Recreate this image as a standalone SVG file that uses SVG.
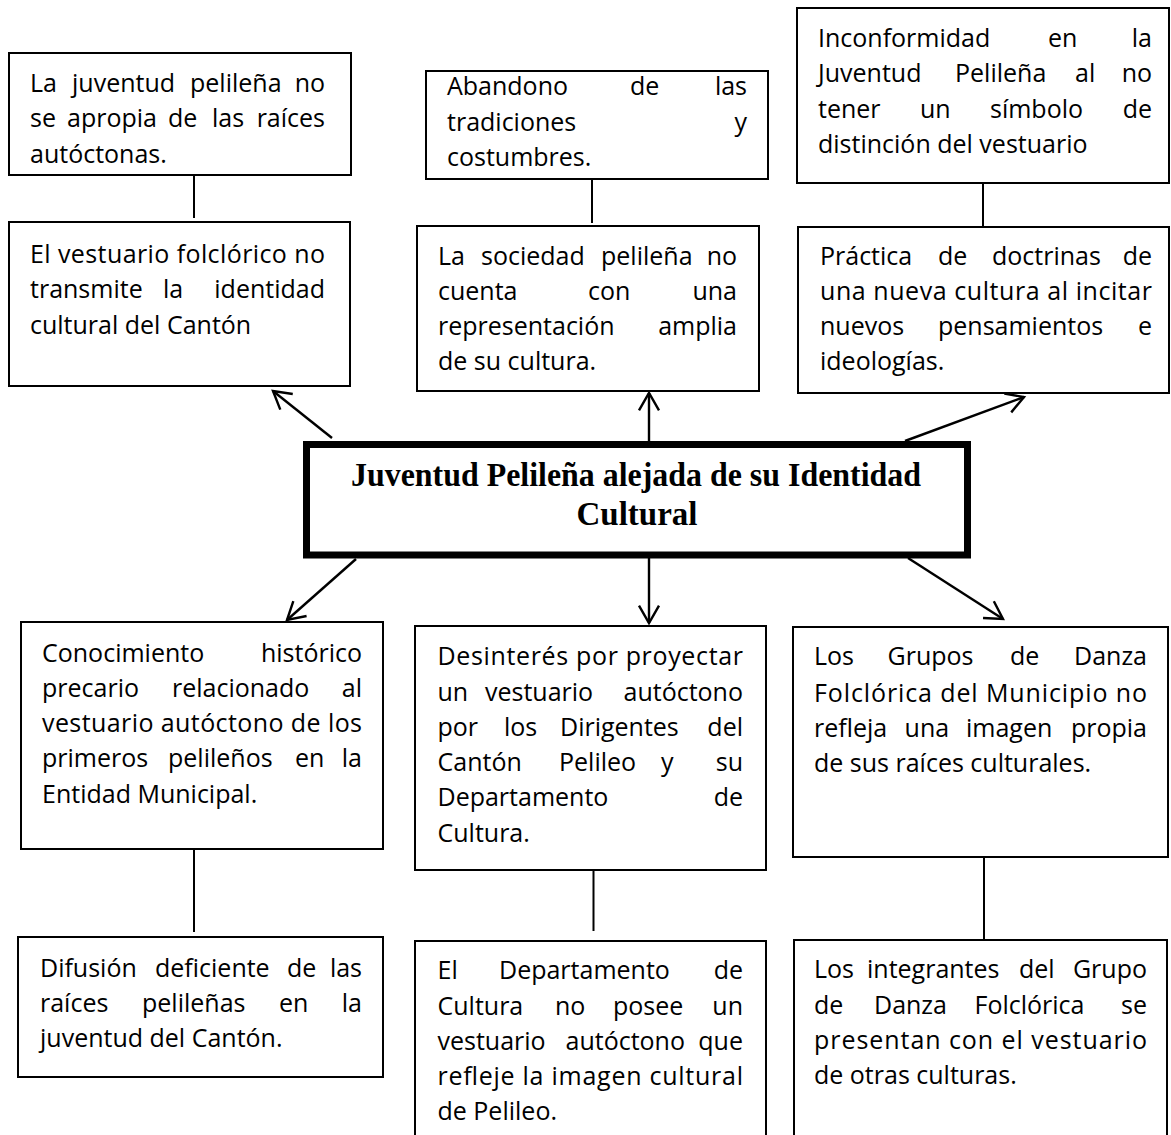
<svg xmlns="http://www.w3.org/2000/svg" width="1171" height="1135" viewBox="0 0 1171 1135">
<style>
.bx{fill:#fff;stroke:#000;stroke-width:2}
.t{font-family:"Open Sans","Liberation Sans",sans-serif;font-size:25px;fill:#000}
.e{text-anchor:end}
.ln{stroke:#000;stroke-width:2;fill:none}
.ar{stroke:#000;stroke-width:2.4;fill:none;marker-end:url(#ah)}
.ttl{font-family:"Liberation Serif","Times New Roman",serif;font-size:33px;font-weight:bold;fill:#000}
</style>
<defs>
<marker id="ah" viewBox="-20 -12 22 24" refX="0" refY="0" markerWidth="22" markerHeight="24" markerUnits="userSpaceOnUse" orient="auto" overflow="visible">
<path d="M-17.3,-10 L0,0 L-17.3,10" fill="none" stroke="#000" stroke-width="2.4" stroke-linejoin="miter"/>
</marker>
</defs>
<rect width="1171" height="1135" fill="#fff"/>

<g id="connectors">
<line class="ln" x1="194" y1="175" x2="194" y2="218"/>
<line class="ln" x1="592" y1="179" x2="592" y2="223"/>
<line class="ln" x1="983" y1="183" x2="983" y2="227"/>
<line class="ln" x1="194" y1="849" x2="194" y2="932"/>
<line class="ln" x1="593.5" y1="870" x2="593.5" y2="931"/>
<line class="ln" x1="984" y1="857" x2="984" y2="940"/>
<line class="ar" x1="332" y1="438" x2="273" y2="391"/>
<line class="ar" x1="649" y1="441" x2="649" y2="393"/>
<line class="ar" x1="905" y1="441" x2="1024" y2="397"/>
<line class="ar" x1="356" y1="559" x2="287" y2="620"/>
<line class="ar" x1="649" y1="558" x2="649" y2="623"/>
<line class="ar" x1="908" y1="558" x2="1003" y2="619"/>
</g>

<g id="n-tl1">
<rect class="bx" x="9" y="53" width="342" height="122"/>
<text class="t" x="30" y="92">La</text>
<text class="t" x="72" y="92">juventud</text>
<text class="t" x="190" y="92">pelileña</text>
<text class="t e" x="325" y="92">no</text>
<text class="t" x="30" y="127">se</text>
<text class="t" x="67" y="127">apropia</text>
<text class="t" x="168" y="127">de</text>
<text class="t" x="212" y="127">las</text>
<text class="t e" x="325" y="127">raíces</text>
<text class="t" x="30" y="163">autóctonas.</text>
</g>

<g id="n-tl2">
<rect class="bx" x="9" y="222" width="341" height="164"/>
<text class="t" x="30" y="263" textLength="295" lengthAdjust="spacing">El vestuario folclórico no</text>
<text class="t" x="30" y="298">transmite</text>
<text class="t" x="163" y="298">la</text>
<text class="t e" x="325" y="298">identidad</text>
<text class="t" x="30" y="334">cultural del Cantón</text>
</g>

<g id="n-tm1">
<rect class="bx" x="426" y="71" width="342" height="108"/>
<text class="t" x="447" y="95">Abandono</text>
<text class="t" x="630" y="95">de</text>
<text class="t e" x="747" y="95">las</text>
<text class="t" x="447" y="131">tradiciones</text>
<text class="t e" x="747" y="131">y</text>
<text class="t" x="447" y="166">costumbres.</text>
</g>

<g id="n-tm2">
<rect class="bx" x="417" y="226" width="342" height="165"/>
<text class="t" x="438" y="265">La</text>
<text class="t" x="481" y="265">sociedad</text>
<text class="t" x="601" y="265">pelileña</text>
<text class="t e" x="737" y="265">no</text>
<text class="t" x="438" y="300">cuenta</text>
<text class="t" x="588" y="300">con</text>
<text class="t e" x="737" y="300">una</text>
<text class="t" x="438" y="335">representación</text>
<text class="t e" x="737" y="335">amplia</text>
<text class="t" x="438" y="370">de su cultura.</text>
</g>

<g id="n-tr1">
<rect class="bx" x="797" y="8" width="372" height="175"/>
<text class="t" x="818" y="47">Inconformidad</text>
<text class="t" x="1048" y="47">en</text>
<text class="t e" x="1152" y="47">la</text>
<text class="t" x="818" y="82">Juventud</text>
<text class="t" x="955" y="82">Pelileña</text>
<text class="t" x="1075" y="82">al</text>
<text class="t e" x="1152" y="82">no</text>
<text class="t" x="818" y="118">tener</text>
<text class="t" x="920" y="118">un</text>
<text class="t" x="990" y="118">símbolo</text>
<text class="t e" x="1152" y="118">de</text>
<text class="t" x="818" y="153">distinción del vestuario</text>
</g>

<g id="n-tr2">
<rect class="bx" x="798" y="227" width="371" height="166"/>
<text class="t" x="820" y="265">Práctica</text>
<text class="t" x="938" y="265">de</text>
<text class="t" x="992" y="265">doctrinas</text>
<text class="t e" x="1152" y="265">de</text>
<text class="t" x="820" y="300" textLength="332" lengthAdjust="spacing">una nueva cultura al incitar</text>
<text class="t" x="820" y="335">nuevos</text>
<text class="t" x="938" y="335">pensamientos</text>
<text class="t e" x="1152" y="335">e</text>
<text class="t" x="820" y="370">ideologías.</text>
</g>

<g id="n-center">
<rect x="306.5" y="444.5" width="661" height="110.5" fill="#fff" stroke="#000" stroke-width="7"/>
<text class="ttl" x="351" y="486" textLength="570" lengthAdjust="spacingAndGlyphs">Juventud Pelileña alejada de su Identidad</text>
<text class="ttl" x="637" y="525" text-anchor="middle">Cultural</text>
</g>

<g id="n-bl1">
<rect class="bx" x="21" y="622" width="362" height="227"/>
<text class="t" x="42" y="662">Conocimiento</text>
<text class="t e" x="362" y="662">histórico</text>
<text class="t" x="42" y="697">precario</text>
<text class="t" x="172" y="697">relacionado</text>
<text class="t e" x="362" y="697">al</text>
<text class="t" x="42" y="732" textLength="320" lengthAdjust="spacing">vestuario autóctono de los</text>
<text class="t" x="42" y="767">primeros</text>
<text class="t" x="168" y="767">pelileños</text>
<text class="t" x="295" y="767">en</text>
<text class="t e" x="362" y="767">la</text>
<text class="t" x="42" y="803">Entidad Municipal.</text>
</g>

<g id="n-bl2">
<rect class="bx" x="18" y="937" width="365" height="140"/>
<text class="t" x="40" y="977">Difusión</text>
<text class="t" x="155" y="977">deficiente</text>
<text class="t" x="287" y="977">de</text>
<text class="t e" x="362" y="977">las</text>
<text class="t" x="40" y="1012">raíces</text>
<text class="t" x="142" y="1012">pelileñas</text>
<text class="t" x="279" y="1012">en</text>
<text class="t e" x="362" y="1012">la</text>
<text class="t" x="40" y="1047">juventud del Cantón.</text>
</g>

<g id="n-bm1">
<rect class="bx" x="415" y="626" width="351" height="244"/>
<text class="t" x="437.5" y="665" textLength="305.5" lengthAdjust="spacing">Desinterés por proyectar</text>
<text class="t" x="437.5" y="701">un</text>
<text class="t" x="485" y="701">vestuario</text>
<text class="t e" x="743" y="701">autóctono</text>
<text class="t" x="437.5" y="736">por</text>
<text class="t" x="504" y="736">los</text>
<text class="t" x="560" y="736">Dirigentes</text>
<text class="t e" x="743" y="736">del</text>
<text class="t" x="437.5" y="771">Cantón</text>
<text class="t" x="559" y="771">Pelileo</text>
<text class="t" x="661" y="771">y</text>
<text class="t e" x="743" y="771">su</text>
<text class="t" x="437.5" y="806">Departamento</text>
<text class="t e" x="743" y="806">de</text>
<text class="t" x="437.5" y="842">Cultura.</text>
</g>

<g id="n-bm2">
<rect class="bx" x="415" y="941" width="351" height="210"/>
<text class="t" x="437.5" y="979">El</text>
<text class="t" x="499" y="979">Departamento</text>
<text class="t e" x="743" y="979">de</text>
<text class="t" x="437.5" y="1015">Cultura</text>
<text class="t" x="555" y="1015">no</text>
<text class="t" x="613" y="1015">posee</text>
<text class="t e" x="743" y="1015">un</text>
<text class="t" x="437.5" y="1050">vestuario</text>
<text class="t" x="565.5" y="1050">autóctono</text>
<text class="t e" x="743" y="1050">que</text>
<text class="t" x="437.5" y="1085" textLength="305.5" lengthAdjust="spacing">refleje la imagen cultural</text>
<text class="t" x="437.5" y="1120">de Pelileo.</text>
</g>

<g id="n-br1">
<rect class="bx" x="793" y="627" width="375" height="230"/>
<text class="t" x="814" y="665">Los</text>
<text class="t" x="887.5" y="665">Grupos</text>
<text class="t" x="1010" y="665">de</text>
<text class="t e" x="1147" y="665">Danza</text>
<text class="t" x="814" y="702" textLength="333" lengthAdjust="spacing">Folclórica del Municipio no</text>
<text class="t" x="814" y="737">refleja</text>
<text class="t" x="904.6" y="737">una</text>
<text class="t" x="966" y="737">imagen</text>
<text class="t e" x="1147" y="737">propia</text>
<text class="t" x="814" y="772">de sus raíces culturales.</text>
</g>

<g id="n-br2">
<rect class="bx" x="794" y="940" width="373" height="210"/>
<text class="t" x="814" y="978">Los</text>
<text class="t" x="867" y="978">integrantes</text>
<text class="t" x="1019" y="978">del</text>
<text class="t e" x="1147" y="978">Grupo</text>
<text class="t" x="814" y="1014">de</text>
<text class="t" x="874" y="1014">Danza</text>
<text class="t" x="974.5" y="1014">Folclórica</text>
<text class="t e" x="1147" y="1014">se</text>
<text class="t" x="814" y="1049" textLength="333" lengthAdjust="spacing">presentan con el vestuario</text>
<text class="t" x="814" y="1084">de otras culturas.</text>
</g>
</svg>
